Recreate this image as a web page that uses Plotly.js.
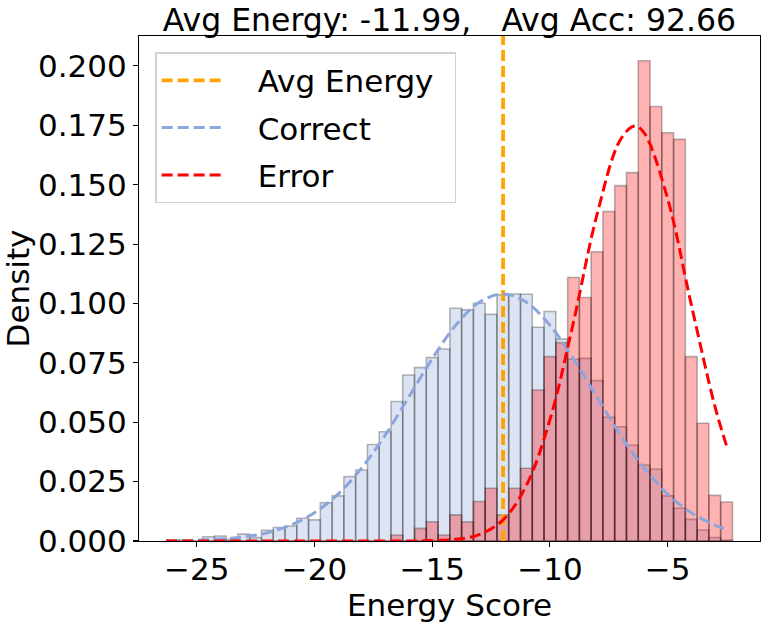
<!DOCTYPE html>
<html>
<head>
<meta charset="utf-8">
<script src="https://cdn.plot.ly/plotly-3.0.1.min.js"></script>
<style>html,body{margin:0;padding:0;background:#fff;}#chart{width:761px;height:627px;}</style>
</head>
<body>
<div id="chart"></div>
<script>
// ---- data ----
const binCenters = [-26, -25.5, -25, -24.5, -24, -23.5, -23, -22.5, -22, -21.5,
  -21, -20.5, -20, -19.5, -19, -18.5, -18, -17.5, -17, -16.5,
  -16, -15.5, -15, -14.5, -14, -13.5, -13, -12.5, -12, -11.5,
  -11, -10.5, -10, -9.5, -9, -8.5, -8, -7.5, -7, -6.5,
  -6, -5.5, -5, -4.5, -4, -3.5, -3, -2.5];
const binWidth = 0.5;
const correctDensity = [0.0004, 0.0004, 0.0, 0.0018, 0.0021, 0.0007, 0.0029, 0.0014, 0.0045, 0.0057,
  0.0063, 0.0096, 0.0089, 0.0161, 0.019, 0.0271, 0.0299, 0.0406, 0.046, 0.0587,
  0.0699, 0.073, 0.0772, 0.0808, 0.098, 0.0973, 0.1001, 0.0954, 0.1036, 0.104,
  0.1039, 0.090, 0.0966, 0.085, 0.0765, 0.0769, 0.0675, 0.0521, 0.0481, 0.0404,
  0.032, 0.0303, 0.019, 0.0138, 0.0091, 0.0046, 0.0015, 0.0004];
const errorDensity = [0, 0, 0, 0, 0, 0, 0, 0, 0, 0,
  0, 0, 0, 0, 0, 0, 0, 0, 0, 0.0025,
  0, 0.0053, 0.0081, 0.0025, 0.011, 0.0081, 0.0166, 0.0222, 0.011, 0.0222,
  0.0306, 0.0636, 0.0776, 0.0835, 0.1109, 0.1025, 0.1218, 0.1387, 0.1496, 0.1551,
  0.2022, 0.1829, 0.1719, 0.1691, 0.0776, 0.0496, 0.0192, 0.0164];
const curveX = [-26.3, -25, -24, -23, -22, -21, -20, -19, -18, -17, -16, -15, -14, -13,
  -12, -11, -10, -9, -8, -7, -6.4, -6, -5, -4, -3, -2.45];
const correctCurve = [0.0001, 0.0003, 0.0008, 0.0017, 0.0035, 0.0067, 0.0119, 0.0197, 0.0307, 0.0445,
  0.0605, 0.0767, 0.0908, 0.1005, 0.104, 0.1005, 0.0908, 0.0767, 0.0605, 0.0445,
  0.0358, 0.0307, 0.0197, 0.0119, 0.0067, 0.0047];
const errorCurve = [0, 0, 0, 0, 0, 0, 0, 0, 0, 0,
  0.0000, 0.0002, 0.0007, 0.0027, 0.0088, 0.0234, 0.0511, 0.0922, 0.1375, 0.1691,
  0.1747, 0.1718, 0.1440, 0.0996, 0.0569, 0.0385];
const avgEnergy = -11.99;
const avgAcc = 92.66;
const yTicks = [0, 0.025, 0.05, 0.075, 0.1, 0.125, 0.15, 0.175, 0.2];
const xTicks = [-25, -20, -15, -10, -5];
const yTop = 0.2126;
const legendNames = ['Avg Energy', 'Correct', 'Error'];

const FONT = 'DejaVu Sans, sans-serif';
const FS = 31;
const GAP = '\u2003';
const TAIL = '\u2002';

const traces = [
  {type: 'bar', x: binCenters, y: correctDensity, width: binWidth, showlegend: false,
   marker: {color: 'rgba(140,165,220,0.3)', line: {color: 'rgba(0,0,0,0.28)', width: 1.6}}, hoverinfo: 'skip'},
  {type: 'bar', x: binCenters, y: errorDensity, width: binWidth, showlegend: false,
   marker: {color: 'rgba(255,0,0,0.3)', line: {color: 'rgba(0,0,0,0.28)', width: 1.6}}, hoverinfo: 'skip'},
  {type: 'scatter', mode: 'lines', x: [avgEnergy, avgEnergy], y: [0, yTop], name: GAP + legendNames[0] + TAIL,
   legendgroup: 'a', line: {color: '#FFA500', width: 3.8, dash: '11px,5px'}},
  {type: 'scatter', mode: 'lines', x: curveX, y: correctCurve, name: GAP + legendNames[1],
   legendgroup: 'b', line: {color: '#8CA5DC', width: 3, dash: '11px,5px', shape: 'spline'}},
  {type: 'scatter', mode: 'lines', x: curveX, y: errorCurve, name: GAP + legendNames[2],
   legendgroup: 'c', line: {color: '#FF0000', width: 3, dash: '11px,5px', shape: 'spline'}}
];

const layout = {
  width: 761, height: 627,
  margin: {l: 139, r: 1, t: 36, b: 86},
  paper_bgcolor: '#fff', plot_bgcolor: '#fff',
  barmode: 'overlay', bargap: 0,
  font: {family: FONT, size: FS, color: '#000'},
  title: {
    text: 'Avg Energy: ' + avgEnergy.toFixed(2) + ',\u00a0\u00a0\u00a0Avg Acc: ' + avgAcc.toFixed(2),
    font: {family: FONT, size: 31.5, color: '#000'},
    x: 0.5, xref: 'paper', xanchor: 'center',
    y: 1, yref: 'paper', yanchor: 'bottom', pad: {b: 5}
  },
  xaxis: {
    range: [-27.45, -1.08], tickmode: 'array', tickvals: xTicks,
    ticks: 'outside', ticklen: 5, tickwidth: 1.1, tickcolor: '#000',
    showline: true, linecolor: '#000', linewidth: 1.1, mirror: true,
    showgrid: false, zeroline: false, ticklabelstandoff: -4,
    tickfont: {family: FONT, size: FS, color: '#000'},
    title: {text: 'Energy Score', font: {family: FONT, size: FS, color: '#000'}, standoff: 6},
    automargin: false
  },
  yaxis: {
    range: [0, yTop], tickmode: 'array', tickvals: yTicks, tickformat: '.3f',
    ticks: 'outside', ticklen: 5, tickwidth: 1.1, tickcolor: '#000',
    showline: true, linecolor: '#000', linewidth: 1.1, mirror: true,
    showgrid: false, zeroline: false,
    tickfont: {family: FONT, size: FS, color: '#000'},
    title: {text: 'Density', font: {family: FONT, size: FS, color: '#000'}, standoff: 10},
    automargin: false
  },
  legend: {
    x: 0.026, y: 0.968, xanchor: 'left', yanchor: 'top',
    bgcolor: 'rgba(255,255,255,0.8)', bordercolor: '#d0d0d0', borderwidth: 1.5,
    font: {family: FONT, size: FS, color: '#000'},
    tracegroupgap: 4, itemwidth: 60
  },
  showlegend: true
};

Plotly.newPlot('chart', traces, layout, {staticPlot: true, displayModeBar: false});
</script>
</body>
</html>
